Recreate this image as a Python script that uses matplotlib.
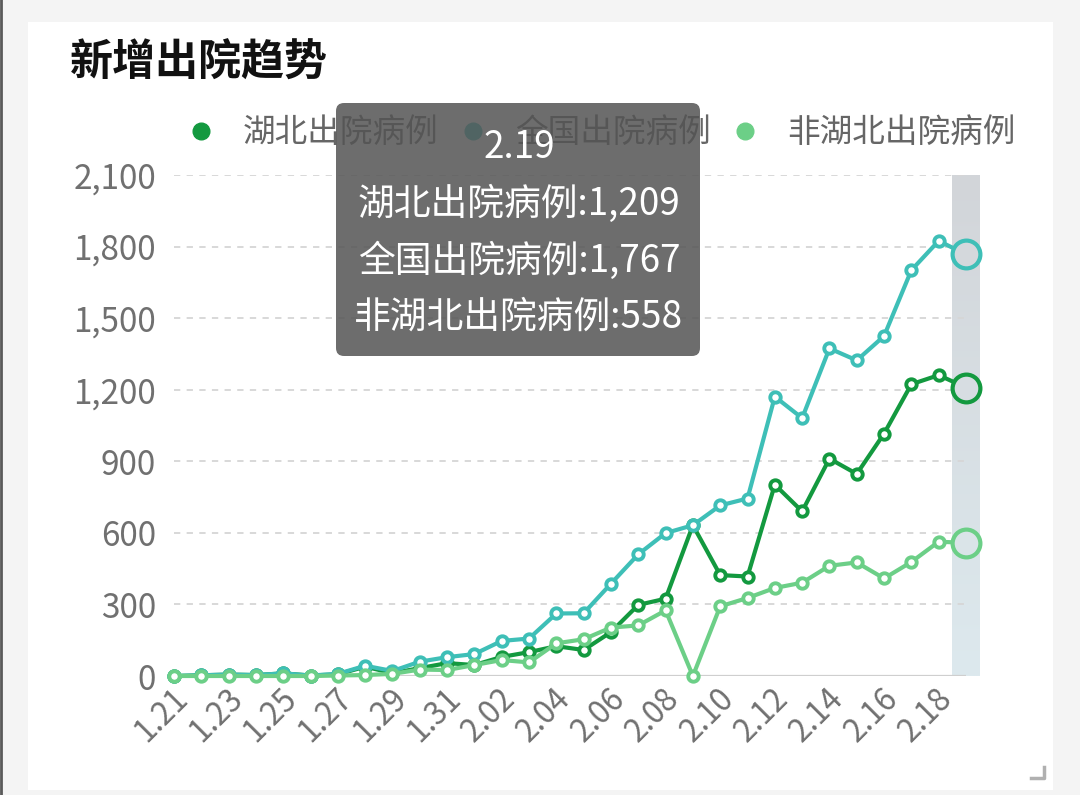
import matplotlib.pyplot as plt
import matplotlib.patches as patches
from matplotlib.lines import Line2D
from matplotlib.colors import LinearSegmentedColormap, to_rgb
from matplotlib.transforms import IdentityTransform, ScaledTranslation
import numpy as np

plt.rcParams['font.family'] = ['Noto Sans CJK SC', 'DejaVu Sans']

# data
dates = ['1.21', '1.22', '1.23', '1.24', '1.25', '1.26', '1.27', '1.28', '1.29', '1.30',
         '1.31', '2.01', '2.02', '2.03', '2.04', '2.05', '2.06', '2.07', '2.08', '2.09',
         '2.10', '2.11', '2.12', '2.13', '2.14', '2.15', '2.16', '2.17', '2.18', '2.19']
hubei = [0, 3, 6, 4, 11, 2, 7, 39, 12, 33, 54, 46, 80, 100, 125, 109, 184, 298, 324, 632,
         423, 417, 802, 690, 911, 847, 1016, 1223, 1261, 1209]
national = [0, 3, 6, 4, 11, 2, 9, 43, 21, 60, 79, 92, 147, 157, 262, 263, 387, 510, 599, 632,
            715, 744, 1171, 1081, 1373, 1323, 1425, 1701, 1824, 1767]
non_hubei = [0, 0, 0, 0, 0, 0, 2, 4, 9, 27, 25, 46, 67, 57, 137, 154, 203, 212, 275, 0,
             292, 327, 369, 391, 462, 476, 409, 478, 563, 558]
names = ['湖北出院病例', '全国出院病例', '非湖北出院病例']
colors = ['#13993f', '#3ebfb7', '#6ccf87']
yticks = list(range(0, 2101, 300))

W, H = 1080, 795
fig = plt.figure(figsize=(W / 100, H / 100), dpi=100)
fig.patch.set_facecolor('#f4f4f4')

# white card + left edge + corner mark
fig.add_artist(patches.Rectangle((28 / W, 1 - 790 / H), (1053 - 28) / W, (790 - 22) / H,
                                 transform=fig.transFigure, facecolor='white',
                                 edgecolor='none', zorder=-10))
fig.add_artist(Line2D([1 / W, 1 / W], [0, 1], transform=fig.transFigure, color='#5a5a5a', lw=2))
fig.add_artist(Line2D([1031 / W, 1044 / W, 1044 / W], [1 - 778 / H, 1 - 778 / H, 1 - 767 / H],
                      transform=fig.transFigure, color='#b0b0b0', lw=2.5))

ax = fig.add_axes([174 / W, 1 - 676 / H, (966 - 174) / W, (676 - 175) / H])
ax.set_facecolor('none')
x = np.arange(len(dates))

# hover band with gradient
band_top, band_bot = '#d2d5d9', '#dde9ee'
cmap = LinearSegmentedColormap.from_list('band', [band_top, band_bot])
grad = np.linspace(0, 1, 256).reshape(-1, 1)
ax.imshow(grad, extent=[len(dates) - 1.5, len(dates) - 0.5, 0, yticks[-1]], origin='upper',
          cmap=cmap, aspect='auto', zorder=0.5, clip_on=False)

for y in yticks[1:]:
    ax.axhline(y, color='#d6d6d6', lw=1.3, ls=(0, (3.5, 3.5)), zorder=0.6)
ax.axhline(0, color='#cfcfcf', lw=1.6, zorder=0.7)

top_rgb, bot_rgb = np.array(to_rgb(band_top)), np.array(to_rgb(band_bot))
for vals, c in zip([hubei, national, non_hubei], colors):
    ax.plot(x, vals, color=c, lw=3.0, marker='o', ms=7.5, mfc='white', mec=c, mew=2.8,
            markevery=slice(0, len(vals) - 1), zorder=2, solid_joinstyle='round',
            clip_on=False)
    t = vals[-1] / yticks[-1]
    fill = tuple(top_rgb * t + bot_rgb * (1 - t))
    ax.plot(x[-1], vals[-1], marker='o', ms=20, mfc=fill, mec=c, mew=3.0, zorder=3,
            clip_on=False)

ax.set_xlim(0, len(dates) - 1)
ax.set_ylim(0, yticks[-1])
ax.set_yticks(yticks)
ax.set_yticklabels([f'{v:,}' for v in yticks])
ax.set_xticks(x[::2])
ax.set_xticklabels(dates[::2], rotation=45, ha='right', va='center', rotation_mode='anchor')
ax.tick_params(axis='y', length=0, pad=13, labelsize=24, labelcolor='#707070')
ax.tick_params(axis='x', length=0, pad=13, labelsize=22.5, labelcolor='#707070')
shift = ScaledTranslation(9 / 100, 0, fig.dpi_scale_trans)
for lbl in ax.get_xticklabels():
    lbl.set_transform(lbl.get_transform() + shift)
for s in ax.spines.values():
    s.set_visible(False)

# title
fig.text(70 / W, 1 - 63 / H, '新增出院趋势', fontsize=31, fontweight='bold', color='#111111',
         ha='left', va='center')

# legend
handles = [Line2D([], [], ls='none', marker='o', ms=12, color=c) for c in colors]
fig.legend(handles, names, loc='center left', bbox_to_anchor=(185 / W, 1 - 133 / H), ncol=3,
           frameon=False, fontsize=23.5, handlelength=1.0, handletextpad=0.78,
           columnspacing=0.55, borderpad=0, borderaxespad=0, labelcolor='#666666')

# tooltip
tip = patches.FancyBboxPatch((336, H - 356), 364, 253, boxstyle='round,pad=0,rounding_size=8',
                             transform=IdentityTransform(), facecolor='#545454', alpha=0.85,
                             edgecolor='none', zorder=10)
fig.add_artist(tip)
tip_lines = [dates[-1],
             f'{names[0]}:{hubei[-1]:,}',
             f'{names[1]}:{national[-1]:,}',
             f'{names[2]}:{non_hubei[-1]:,}']
for i, line in enumerate(tip_lines):
    fig.text(519 / W, 1 - (148 + i * 56.5) / H, line, fontsize=26.5, color='white',
             ha='center', va='center', zorder=11)

fig.savefig('out.png', dpi=100, facecolor=fig.get_facecolor())
